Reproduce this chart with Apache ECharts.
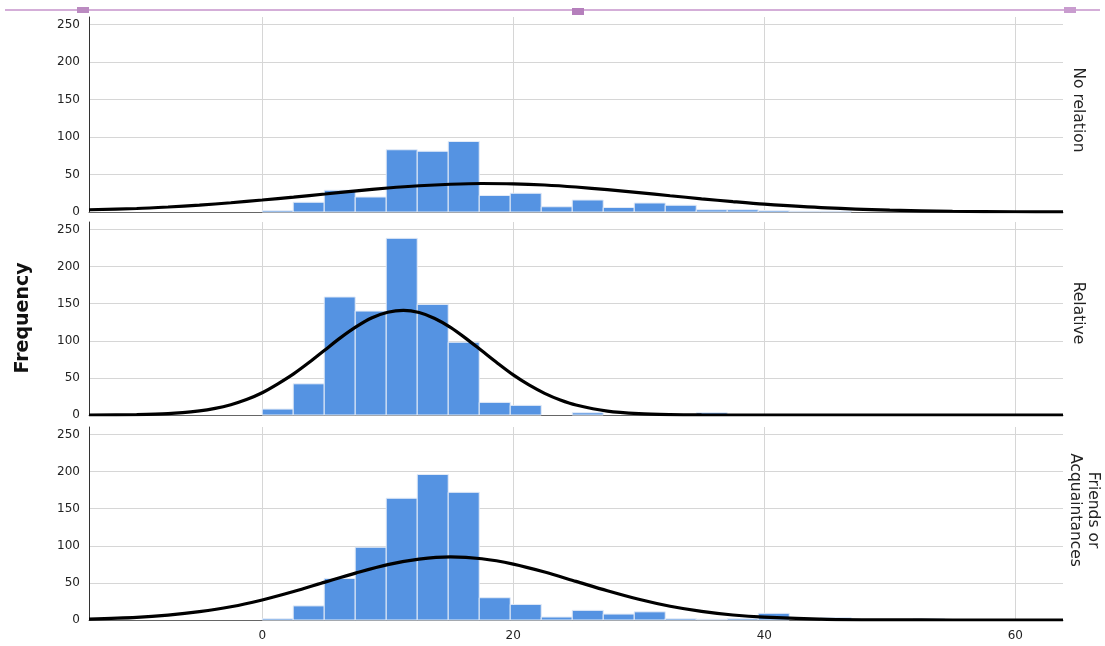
<!DOCTYPE html>
<html>
<head>
<meta charset="utf-8">
<script src="https://cdn.jsdelivr.net/npm/echarts@6/dist/echarts.min.js"></script>
<style>
html,body{margin:0;padding:0;background:#fff}
#main{width:1105px;height:646px}
</style>
</head>
<body>
<div id="main"></div>
<script>
//面板名称（右侧）
var panelNames = ['No relation', 'Relative', 'Friends or\nAcquaintances'];
//直方图分组
var binStart = 0;
var binWidth = 2.47;
var countsNoRelation = [2, 13, 29, 20, 83, 81, 94, 22, 25, 7, 16, 6, 12, 9, 3, 3, 2, 1, 1];
var countsRelative = [8, 42, 159, 140, 238, 149, 98, 17, 13, 0, 3, 0, 0, 0, 3];
var countsFriends = [2, 19, 56, 98, 164, 196, 172, 30, 21, 4, 13, 8, 11, 2, 1, 2, 9, 0, 3, 0, 0, 2];
//正态曲线（从图上读取的点）
var curveX = [-13.8, -10, -7.5, -5, -2.5, 0, 2.5, 5, 7.5, 10, 12.5, 15, 17.5, 20, 22.5, 25, 27.5, 30, 32.5, 35, 37.5, 40, 45, 50, 55, 60, 63.8];
var curveNoRelation = [3, 4.7, 6.7, 9.2, 12.3, 16, 19.9, 24, 28.2, 32, 35, 37, 38, 37.6, 36, 33.3, 29.8, 25.9, 21.7, 17.6, 13.8, 10.4, 5.4, 2.5, 1, 0.3, 0.1];
var curveFriends = [1.3, 3.6, 6.6, 11.2, 17.8, 27, 38.3, 51, 63.5, 74.6, 82, 85, 82.5, 75.3, 64.6, 52, 39.4, 27.9, 18.5, 11.6, 6.7, 3.8, 0.95, 0.2, 0, 0, 0];
var curveX2 = [-13.8, -10, -7.5, -5, -3.75, -2.5, -1.25, 0, 1.25, 2.5, 3.75, 5, 6.25, 7.5, 8.75, 10, 11.25, 12.5, 13.75, 15, 16.25, 17.5, 18.75, 20, 21.25, 22.5, 23.75, 25, 27.5, 30, 32.5, 35, 40, 50, 63.8];
var curveRelative = [0, 0.5, 1.8, 5.6, 8.9, 13.9, 20.8, 30, 42, 55.4, 71, 87.7, 104.2, 119, 131, 138.5, 141, 138, 130, 118, 102.9, 86.4, 69.8, 54, 40.5, 29.2, 20.2, 13.5, 5.3, 1.8, 0.5, 0.1, 0, 0, 0];
//坐标轴刻度
var xTicks = [0, 20, 40, 60];
var yTicks = [0, 50, 100, 150, 200, 250];

var gridTops = [17, 222, 427];
var gridHeights = [195, 193, 193];
var gridColor = '#d6d6d6';

function zip(xs, ys) {
    var out = [];
    for (var i = 0; i < xs.length; i++) {
        out.push([xs[i], ys[i]]);
    }
    return out;
}

function histSeries(idx, counts) {
    var data = [];
    for (var i = 0; i < counts.length; i++) {
        if (counts[i] > 0) {
            data.push([binStart + i * binWidth, binStart + (i + 1) * binWidth, counts[i]]);
        }
    }
    return {
        type: 'custom',
        xAxisIndex: idx,
        yAxisIndex: idx,
        data: data,
        encode: {x: [0, 1], y: 2},
        z: 2,
        renderItem: function (params, api) {
            var p0 = api.coord([api.value(0), api.value(2)]);
            var p1 = api.coord([api.value(1), 0]);
            return {
                type: 'rect',
                shape: {x: p0[0], y: p0[1], width: p1[0] - p0[0], height: p1[1] - p0[1]},
                style: {fill: '#5593e2', stroke: '#e3ebf7', lineWidth: 1}
            };
        }
    };
}

function curveSeries(idx, xs, ys) {
    return {
        type: 'line',
        xAxisIndex: idx,
        yAxisIndex: idx,
        data: zip(xs, ys),
        smooth: 0.3,
        showSymbol: false,
        z: 5,
        lineStyle: {color: '#000', width: 3.2}
    };
}

var grids = [], xAxes = [], yAxes = [];
for (var g = 0; g < 3; g++) {
    grids.push({left: 89, right: 42, top: gridTops[g], height: gridHeights[g]});
    xAxes.push({
        type: 'value',
        gridIndex: g,
        min: -13.8,
        max: 63.8,
        axisLine: {show: true, onZero: false, lineStyle: {color: '#666', width: 1}},
        axisTick: {show: false, customValues: xTicks},
        axisLabel: {
            show: g == 2,
            customValues: xTicks,
            fontFamily: 'DejaVu Sans',
            fontSize: 12,
            color: '#222',
            margin: 10
        },
        splitLine: {show: true, lineStyle: {color: gridColor, width: 1}}
    });
    yAxes.push({
        type: 'value',
        gridIndex: g,
        min: 0,
        max: 260,
        axisLine: {show: true, onZero: false, lineStyle: {color: '#333', width: 1}},
        axisTick: {show: false, customValues: yTicks},
        axisLabel: {
            customValues: yTicks,
            fontFamily: 'DejaVu Sans',
            fontSize: 12,
            color: '#222',
            margin: 9
        },
        splitLine: {show: true, lineStyle: {color: gridColor, width: 1}}
    });
}

var graphics = [
    {type: 'line', shape: {x1: 5, y1: 10, x2: 1100, y2: 10}, style: {stroke: '#d4aed8', lineWidth: 2}},
    {type: 'rect', shape: {x: 77, y: 7, width: 12, height: 6}, style: {fill: '#bb8bc1'}},
    {type: 'rect', shape: {x: 572, y: 8, width: 12, height: 7}, style: {fill: '#b57fbc'}},
    {type: 'rect', shape: {x: 1064, y: 7, width: 12, height: 6}, style: {fill: '#c99ccf'}},
    {
        type: 'text', x: 23, y: 318, rotation: Math.PI / 2,
        style: {text: 'Frequency', font: 'bold 19px "DejaVu Sans"', fill: '#111', align: 'center', verticalAlign: 'middle'}
    }
];
var labelCenters = [[1078, 110], [1078, 313], [1084, 510]];
for (var k = 0; k < 3; k++) {
    graphics.push({
        type: 'text', x: labelCenters[k][0], y: labelCenters[k][1], rotation: -Math.PI / 2,
        style: {text: panelNames[k], font: '15.5px "DejaVu Sans"', fill: '#222', align: 'center', verticalAlign: 'middle', lineHeight: 18}
    });
}

var myChart = echarts.init(document.getElementById('main'));
var option = {
    animation: false,
    backgroundColor: '#fff',
    grid: grids,
    xAxis: xAxes,
    yAxis: yAxes,
    graphic: graphics,
    series: [
        histSeries(0, countsNoRelation),
        histSeries(1, countsRelative),
        histSeries(2, countsFriends),
        curveSeries(0, curveX, curveNoRelation),
        curveSeries(1, curveX2, curveRelative),
        curveSeries(2, curveX, curveFriends)
    ]
};
myChart.setOption(option);
</script>
</body>
</html>
